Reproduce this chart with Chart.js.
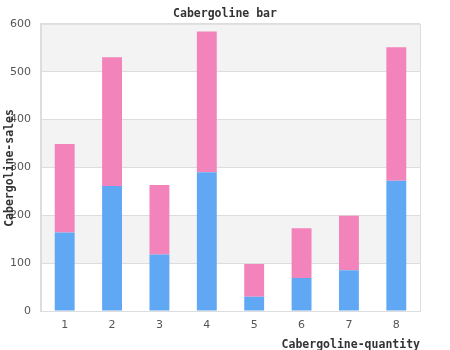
<!DOCTYPE html>
<html>
<head>
<meta charset="utf-8">
<script src="https://cdn.jsdelivr.net/npm/chart.js@4"></script>
<style>
  html, body { margin: 0; padding: 0; background: #fff; }
  #wrap { width: 450px; height: 350px; }
</style>
</head>
<body>
<div id="wrap"><canvas id="bar-chart" width="450" height="350"></canvas></div>
<script>
// Chart data
const categories = ["1", "2", "3", "4", "5", "6", "7", "8"];
const lowerValues = [164, 261, 118, 290, 30, 69, 85, 272];
const upperValues = [185, 269, 145, 294, 68, 104, 114, 279];
const yTicks = [0, 100, 200, 300, 400, 500, 600];

const monoFont = "'DejaVu Sans Mono', monospace";

// Alternating gray bands, plot frame and the rotated y title
const bandsPlugin = {
  id: "bands",
  beforeDraw(chart) {
    const { ctx, chartArea, scales } = chart;
    const y = scales.y;
    ctx.save();
    ctx.fillStyle = "#f3f3f3";
    for (let i = 1; i < yTicks.length; i += 2) {
      const top = y.getPixelForValue(yTicks[i + 1] !== undefined ? yTicks[i + 1] : yTicks[i]);
      const bottom = y.getPixelForValue(yTicks[i]);
      ctx.fillRect(chartArea.left, top, chartArea.right - chartArea.left, bottom - top);
    }
    ctx.restore();
  },
  afterDraw(chart) {
    const { ctx, chartArea } = chart;
    ctx.save();
    ctx.strokeStyle = "#dddddd";
    ctx.lineWidth = 1;
    ctx.strokeRect(chartArea.left + 0.5, chartArea.top + 0.5,
      chartArea.right - chartArea.left, chartArea.bottom - chartArea.top);
    // y axis title drawn over the tick labels, like the reference
    ctx.translate(10, 168);
    ctx.rotate(-Math.PI / 2);
    ctx.font = "bold 11.5px " + monoFont;
    ctx.fillStyle = "#333";
    ctx.textAlign = "center";
    ctx.textBaseline = "middle";
    ctx.fillText("Cabergoline-sales", 0, 0);
    ctx.restore();
  }
};

const ctx = document.getElementById("bar-chart").getContext("2d");
const barChart = new Chart(ctx, {
  type: "bar",
  data: {
    labels: categories,
    datasets: [
      {
        label: "lower",
        data: lowerValues,
        backgroundColor: "#60a8f4",
        barPercentage: 0.84,
        categoryPercentage: 0.5,
      },
      {
        label: "upper",
        data: upperValues,
        backgroundColor: "#f283bb",
        barPercentage: 0.84,
        categoryPercentage: 0.5,
      },
    ],
  },
  options: {
    responsive: false,
    animation: false,
    layout: { padding: { left: 0, right: 0, top: 0, bottom: -2 } },
    plugins: {
      legend: { display: false },
      tooltip: { enabled: false },
      title: {
        display: true,
        text: "Cabergoline bar",
        color: "#333",
        font: { family: monoFont, size: 11.5, weight: "bold" },
        padding: { top: 7, bottom: 3 },
      },
    },
    scales: {
      x: {
        stacked: true,
        grid: { display: false },
        border: { color: "#dddddd" },
        ticks: { color: "#555", font: { family: "'DejaVu Sans'", size: 11 }, padding: 0 },
        title: {
          display: true,
          text: "Cabergoline-quantity",
          align: "end",
          color: "#333",
          font: { family: monoFont, size: 11.5, weight: "bold" },
          padding: { top: 6, bottom: 0 },
        },
      },
      y: {
        stacked: true,
        min: 0,
        max: 600,
        afterBuildTicks(axis) {
          axis.ticks = yTicks.map((v) => ({ value: v }));
        },
        grid: { color: "#dddddd", drawTicks: false },
        border: { color: "#dddddd" },
        ticks: { color: "#555", font: { family: "'DejaVu Sans'", size: 11 }, padding: 10 },
      },
      // empty right-hand gutter so the plot stops short of the edge
      yRight: {
        type: "linear",
        position: "right",
        min: 0,
        max: 600,
        grid: { display: false },
        border: { display: false },
        ticks: { display: false },
        afterFit(axis) {
          axis.width = 30;
        },
      },
    },
  },
  plugins: [bandsPlugin],
});
</script>
</body>
</html>
